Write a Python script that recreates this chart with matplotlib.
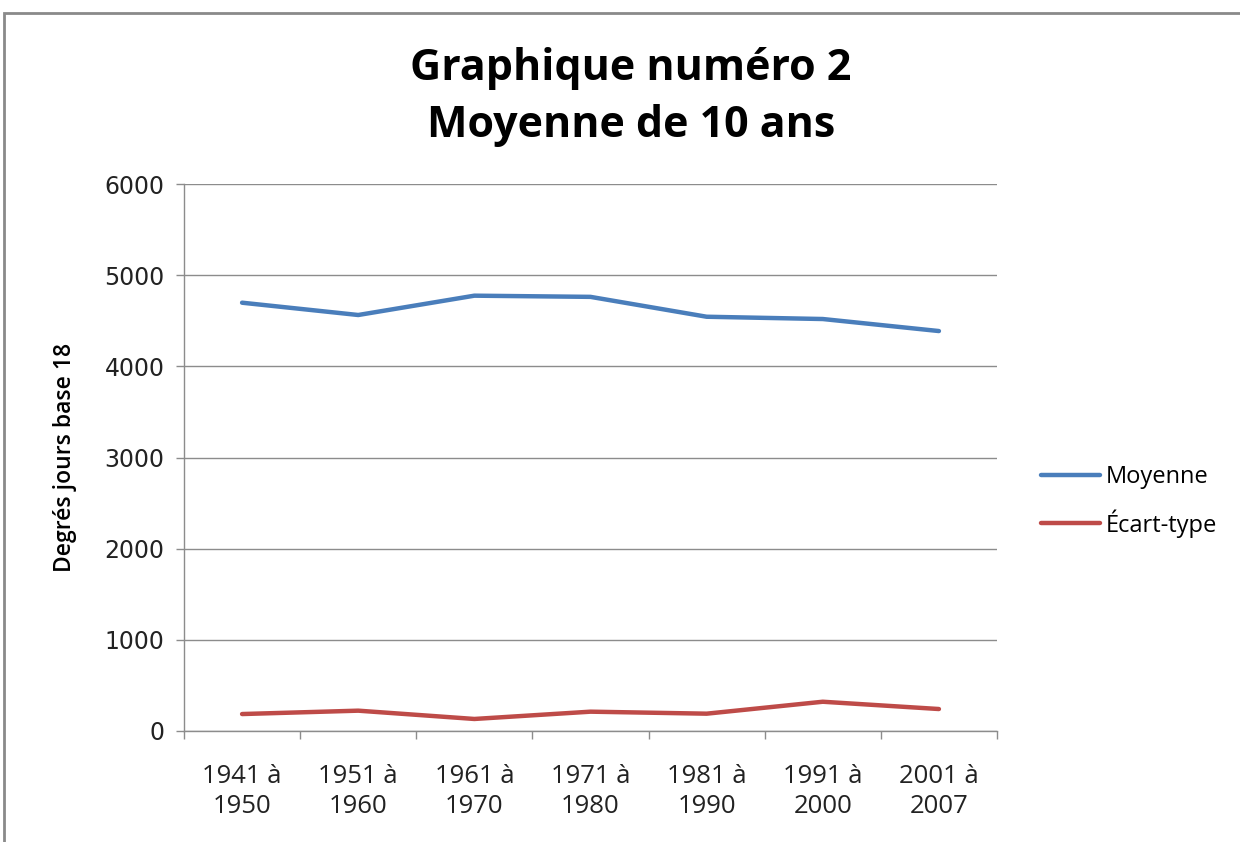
import matplotlib
matplotlib.use('Agg')
import matplotlib.pyplot as plt
from matplotlib.patches import Rectangle

categories = ['1941 à\n1950', '1951 à\n1960', '1961 à\n1970', '1971 à\n1980',
              '1981 à\n1990', '1991 à\n2000', '2001 à\n2007']
moyenne = [4698, 4563, 4775, 4762, 4544, 4519, 4387]
ecart_type = [186, 223, 132, 212, 190, 321, 241]
y_ticks = [0, 1000, 2000, 3000, 4000, 5000, 6000]

blue = '#4A7EBB'
red = '#BE4B48'
grid_c = '#8C8C8C'

fig = plt.figure(figsize=(12.4, 8.42), dpi=100)
fig.patches.append(Rectangle((4 / 1240, -0.1), 1.2, 1 - 13 / 842 + 0.1,
                             transform=fig.transFigure, fill=False,
                             edgecolor='#8A8A8A', linewidth=2))

ax = fig.add_axes([184 / 1240, 1 - 731 / 842, 813 / 1240, 547 / 842])
x = list(range(len(categories)))
ax.plot(x, moyenne, color=blue, lw=3.2, label='Moyenne', solid_capstyle='round')
ax.plot(x, ecart_type, color=red, lw=3.2, label='Écart-type', solid_capstyle='round')

ax.set_xlim(-0.5, len(categories) - 0.5)
ax.set_ylim(0, 6000)
ax.set_yticks(y_ticks)
ax.set_yticklabels([str(v) for v in y_ticks], fontsize=17, color='#222222')
ax.yaxis.grid(True, color=grid_c, lw=1)
ax.set_axisbelow(True)

ax.set_xticks([i + 0.5 for i in range(-1, len(categories))])
ax.set_xticklabels([])
ax.set_xticks(x, minor=True)
ax.set_xticklabels(categories, minor=True, fontsize=18.5, family='Open Sans',
                   color='#222222', linespacing=1.25)
ax.tick_params(axis='x', which='major', length=6, color=grid_c, width=1)
ax.tick_params(axis='x', which='minor', length=0, pad=24)
ax.tick_params(axis='y', length=6, color=grid_c, width=1, pad=8)

for s in ['top', 'right']:
    ax.spines[s].set_visible(False)
for s in ['left', 'bottom']:
    ax.spines[s].set_color(grid_c)
    ax.spines[s].set_linewidth(1)

ax.set_ylabel('Degrés jours base 18', fontsize=16.5, family='Open Sans',
              fontweight='semibold', labelpad=20)

fig.text(0.509, 1 - 97 / 842, 'Graphique numéro 2\nMoyenne de 10 ans',
         ha='center', va='center', fontsize=31, fontweight='bold',
         family='Open Sans', linespacing=1.4)

ax.legend(loc='center left', bbox_to_anchor=(1.028, 0.42), frameon=False,
          prop={'family': 'Open Sans', 'size': 17}, handlelength=2.5,
          labelspacing=0.85, handletextpad=0.25)

fig.savefig('out.png', dpi=100)
